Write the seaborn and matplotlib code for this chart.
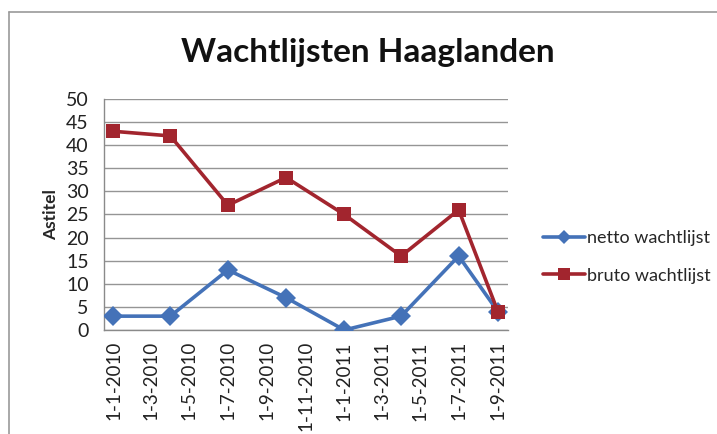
import matplotlib
matplotlib.use("Agg")
import matplotlib.pyplot as plt
from matplotlib.lines import Line2D
import seaborn as sns
import pandas as pd

# ---- data ----
dates = ["2010-01-01", "2010-04-01", "2010-07-01", "2010-10-01",
         "2011-01-01", "2011-04-01", "2011-07-01", "2011-09-01"]
netto = [3, 3, 13, 7, 0, 3, 16, 4]
bruto = [43, 42, 27, 33, 25, 16, 26, 4]
series_names = ["netto wachtlijst", "bruto wachtlijst"]
tick_dates = ["2010-01-01", "2010-03-01", "2010-05-01", "2010-07-01",
              "2010-09-01", "2010-11-01", "2011-01-01", "2011-03-01",
              "2011-05-01", "2011-07-01", "2011-09-01"]
tick_labels = ["1-1-2010", "1-3-2010", "1-5-2010", "1-7-2010", "1-9-2010",
               "1-11-2010", "1-1-2011", "1-3-2011", "1-5-2011", "1-7-2011",
               "1-9-2011"]
y_ticks = [0, 5, 10, 15, 20, 25, 30, 35, 40, 45, 50]
title = "Wachtlijsten Haaglanden"
ylabel = "Astitel"

df = pd.DataFrame({
    "date": pd.to_datetime(dates * 2),
    "value": netto + bruto,
    "series": [series_names[0]] * len(dates) + [series_names[1]] * len(dates),
})

sns.set_theme(style="white")
plt.rcParams["font.family"] = ["Lato", "DejaVu Sans"]

fig = plt.figure(figsize=(7.17, 4.34), dpi=100)
ax = fig.add_axes([0.145, 0.2396, 0.5635, 0.5324])

blue = "#4472B8"
red = "#A2252E"
sns.lineplot(data=df, x="date", y="value", hue="series", style="series",
             hue_order=series_names, style_order=series_names,
             palette={series_names[0]: blue, series_names[1]: red},
             markers={series_names[0]: "D", series_names[1]: "s"},
             dashes=False, linewidth=2.6, markersize=10.5,
             markeredgewidth=0, ax=ax, legend=False)
# bruto drawn on top of netto
for ln in ax.lines:
    if ln.get_color() == red or ln.get_marker() == "s":
        ln.set_zorder(4)
    else:
        ln.set_zorder(3)

ax.set_ylim(0, 50)
ax.set_yticks(y_ticks)
ax.set_yticklabels([str(v) for v in y_ticks], fontsize=14, color="#222222")
ax.set_xlim(pd.Timestamp("2009-12-17"), pd.Timestamp("2011-09-17"))
ax.set_xticks(pd.to_datetime(tick_dates))
ax.set_xticklabels(tick_labels, rotation=90, fontsize=13.5, color="#222222")
ax.set_xlabel("")
ax.set_ylabel(ylabel, fontsize=12.5, fontweight="bold", labelpad=5)

ax.yaxis.grid(True, color="#959595", linewidth=1)
ax.xaxis.grid(False)
ax.set_axisbelow(True)
for s in ["top", "right"]:
    ax.spines[s].set_visible(False)
for s in ["left", "bottom"]:
    ax.spines[s].set_color("#8a8a8a")
    ax.spines[s].set_linewidth(1)
ax.tick_params(axis="y", length=0, pad=11)
ax.tick_params(axis="x", length=0, pad=8)

fig.text(0.513, 0.878, title, fontsize=24, fontweight="bold",
         ha="center", va="center", color="#111111")

handles = [
    Line2D([], [], color=blue, marker="D", markersize=7, linewidth=2.6,
           markeredgewidth=0),
    Line2D([], [], color=red, marker="s", markersize=9, linewidth=2.6,
           markeredgewidth=0),
]
fig.legend(handles, series_names, loc="center left",
           bbox_to_anchor=(0.735, 0.408), frameon=False, fontsize=13,
           handlelength=2.3, handletextpad=0.15, labelspacing=1.2)

# chart area border (top and left edges visible)
fig.add_artist(Line2D([0.0126, 1.0], [0.972, 0.972], color="#9a9a9a",
                      linewidth=1.2, transform=fig.transFigure))
fig.add_artist(Line2D([0.0126, 0.0126], [0.0, 0.972], color="#9a9a9a",
                      linewidth=1.2, transform=fig.transFigure))

fig.savefig("out.png", dpi=100)
